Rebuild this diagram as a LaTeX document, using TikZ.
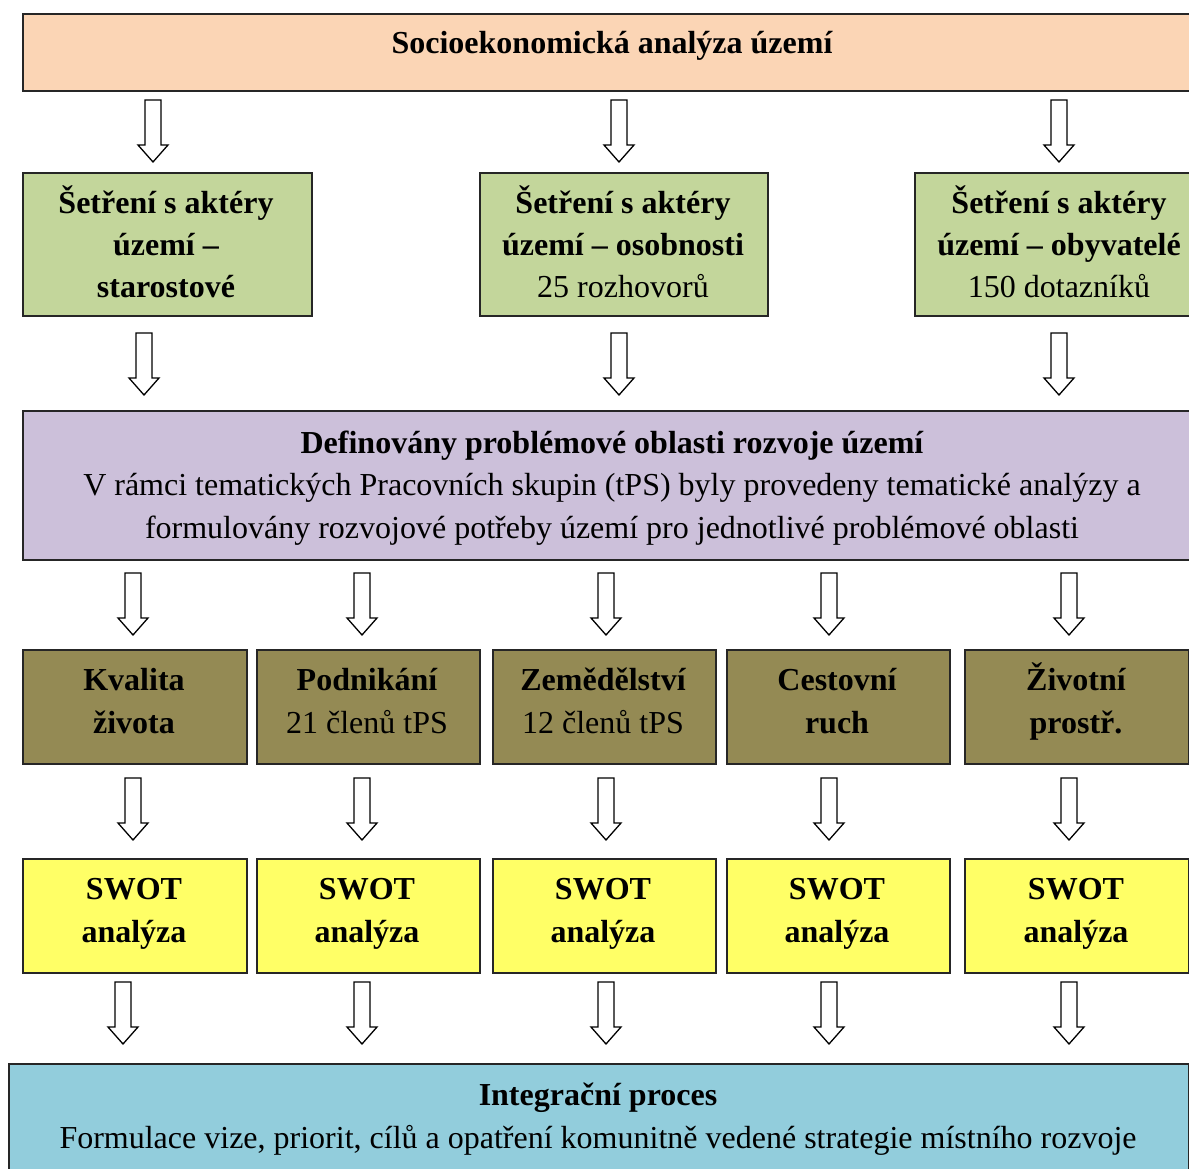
\documentclass[tikz,border=0pt]{standalone}
\usepackage{fontspec}
\setmainfont{Liberation Serif}
\definecolor{peach}{HTML}{FBD5B5}
\definecolor{lgreen}{HTML}{C3D69B}
\definecolor{lpurple}{HTML}{CCC0DA}
\definecolor{olive}{HTML}{948A54}
\definecolor{lyellow}{HTML}{FFFF66}
\definecolor{lblue}{HTML}{92CDDC}
\begin{document}
\begin{tikzpicture}[x=1pt,y=-1pt,
  box/.style={draw=black!85, line width=1.6pt, inner sep=0pt, anchor=north west},
  txt/.style={align=center, anchor=base, inner sep=0pt, font=\fontsize{32}{42.5}\selectfont},
  dnarrow/.pic={\draw[line width=1.3pt, fill=white, line join=miter]
     (-8,0) -- (8,0) -- (8,45) -- (15,45) -- (0,62) -- (-15,45) -- (-8,45) -- cycle;}]
\useasboundingbox (0,0) rectangle (1189,1169);
\clip (0,0) rectangle (1189,1169);
% row 1
\node[box, fill=peach, minimum width=1180, minimum height=77] (top) at (22,13) {};
\node[txt] (toptxt) at (612,54) {\bfseries Socioekonomická analýza území};
\foreach \x in {153,619,1059} \pic at (\x,100) {dnarrow};
% row 2 (anchor = baseline of last line)
\node[box, fill=lgreen, minimum width=289, minimum height=143] (g1) at (22,172) {};
\node[box, fill=lgreen, minimum width=288, minimum height=143] (g2) at (479,172) {};
\node[box, fill=lgreen, minimum width=290, minimum height=143] (g3) at (914,172) {};
\node[txt] (g1t) at (166,298) {\bfseries Šetření s aktéry\\\bfseries území –\\\bfseries starostové};
\node[txt] (g2t) at (623,298) {\bfseries Šetření s aktéry\\\bfseries území – osobnosti\\25 rozhovorů};
\node[txt] (g3t) at (1059,298) {\bfseries Šetření s aktéry\\\bfseries území – obyvatelé\\150 dotazníků};
\foreach \x in {144,619,1059} \pic at (\x,333) {dnarrow};
% row 3
\node[box, fill=lpurple, minimum width=1180, minimum height=149] (p) at (22,410) {};
\node[txt] (pt) at (612,538) {\bfseries Definovány problémové oblasti rozvoje území\\V rámci tematických Pracovních skupin (tPS) byly provedeny tematické analýzy a\\formulovány rozvojové potřeby území pro jednotlivé problémové oblasti};
\foreach \x in {133,362,606,829,1069} \pic at (\x,573) {dnarrow};
% row 4
\node[box, fill=olive, minimum width=224, minimum height=114] (o1) at (22,649) {};
\node[box, fill=olive, minimum width=223, minimum height=114] (o2) at (256,649) {};
\node[box, fill=olive, minimum width=223, minimum height=114] (o3) at (492,649) {};
\node[box, fill=olive, minimum width=223, minimum height=114] (o4) at (726,649) {};
\node[box, fill=olive, minimum width=224, minimum height=114] (o5) at (964,649) {};
\node[txt] (o1t) at (134,733) {\bfseries Kvalita\\\bfseries života};
\node[txt] (o2t) at (367,733) {\bfseries Podnikání\\21 členů tPS};
\node[txt] (o3t) at (603,733) {\bfseries Zemědělství\\12 členů tPS};
\node[txt] (o4t) at (837,733) {\bfseries Cestovní\\\bfseries ruch};
\node[txt] (o5t) at (1076,733) {\bfseries Životní\\\bfseries prostř.};
\foreach \x in {133,362,606,829,1069} \pic at (\x,778) {dnarrow};
% row 5
\node[box, fill=lyellow, minimum width=224, minimum height=114] (y1) at (22,858) {};
\node[box, fill=lyellow, minimum width=223, minimum height=114] (y2) at (256,858) {};
\node[box, fill=lyellow, minimum width=223, minimum height=114] (y3) at (492,858) {};
\node[box, fill=lyellow, minimum width=223, minimum height=114] (y4) at (726,858) {};
\node[box, fill=lyellow, minimum width=224, minimum height=114] (y5) at (964,858) {};
\foreach \n/\x in {1/134,2/367,3/603,4/837,5/1076}
  \node[txt] (y\n t) at (\x,942) {\bfseries SWOT\\\bfseries analýza};
\foreach \x in {123,362,606,829,1069} \pic at (\x,982) {dnarrow};
% bottom
\node[box, fill=lblue, minimum width=1180, minimum height=130] (b) at (8,1063) {};
\node[txt] (bt) at (598,1148) {\bfseries Integrační proces\\Formulace vize, priorit, cílů a opatření komunitně vedené strategie místního rozvoje};
\end{tikzpicture}
\end{document}
